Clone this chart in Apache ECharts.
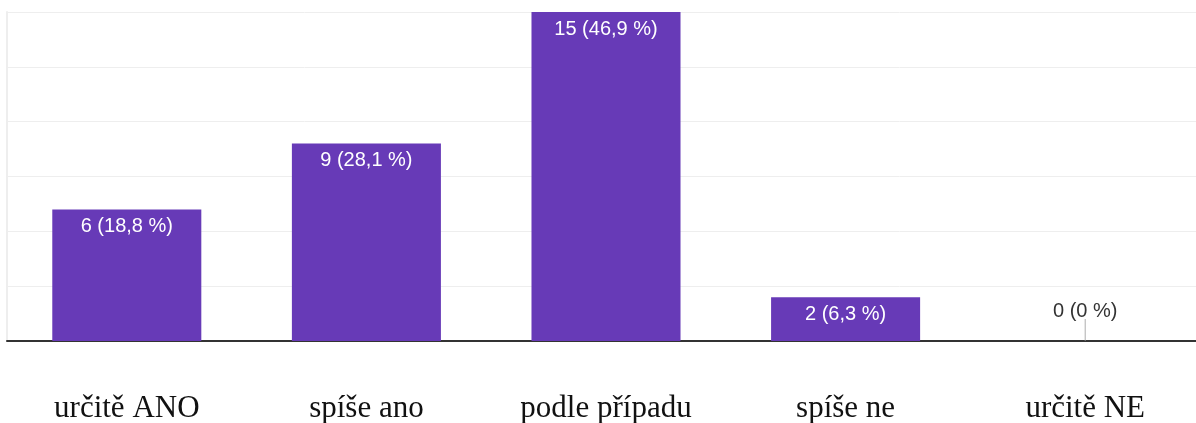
<!DOCTYPE html>
<html>
<head>
<meta charset="utf-8">
<script src="https://cdn.jsdelivr.net/npm/echarts@6/dist/echarts.min.js"></script>
<style>
html,body{margin:0;padding:0;background:#fff;}
#chart{width:1196px;height:423px;}
</style>
</head>
<body>
<div id="chart"></div>
<script>
const categories = ['určitě ANO', 'spíše ano', 'podle případu', 'spíše ne', 'určitě NE'];
const counts = [6, 9, 15, 2, 0];
const percents = ['18,8', '28,1', '46,9', '6,3', '0'];

const chart = echarts.init(document.getElementById('chart'));
const barData = counts.map((v, i) => {
  const item = { value: v };
  if (v === 0) {
    item.label = { position: 'top', distance: 20, color: '#333' };
  }
  return item;
});
const zeroTicks = counts.map((v, i) => v === 0 ? [i, 0] : null).filter(Boolean);

chart.setOption({
  animation: false,
  grid: { left: 7, top: 12, width: 1198, bottom: 82, containLabel: false, outerBoundsMode: 'none' },
  xAxis: {
    type: 'category',
    data: categories,
    axisLine: { show: true, lineStyle: { color: '#333', width: 2 } },
    axisTick: { show: false },
    axisLabel: {
      fontFamily: 'Liberation Serif',
      fontSize: 31,
      color: '#111',
      margin: 52
    },
    splitLine: { show: false }
  },
  yAxis: {
    type: 'value',
    min: 0,
    max: 15,
    interval: 2.5,
    axisLabel: { show: false },
    axisLine: { show: true, lineStyle: { color: '#eeeeee', width: 2 } },
    axisTick: { show: false },
    splitLine: { lineStyle: { color: '#eeeeee', width: 1 } }
  },
  series: [
    {
      type: 'bar',
      data: barData,
      barWidth: '62.2%',
      itemStyle: { color: '#673ab7' },
      label: {
        show: true,
        position: 'insideTop',
        distance: 7,
        color: '#fff',
        fontFamily: 'Liberation Sans',
        fontSize: 20,
        formatter: p => counts[p.dataIndex] + ' (' + percents[p.dataIndex] + ' %)'
      }
    },
    {
      type: 'scatter',
      data: zeroTicks,
      symbol: 'rect',
      symbolSize: [1, 22],
      symbolOffset: [0, -11],
      itemStyle: { color: '#999' },
      silent: true,
      z: 1
    }
  ]
});
</script>
</body>
</html>
